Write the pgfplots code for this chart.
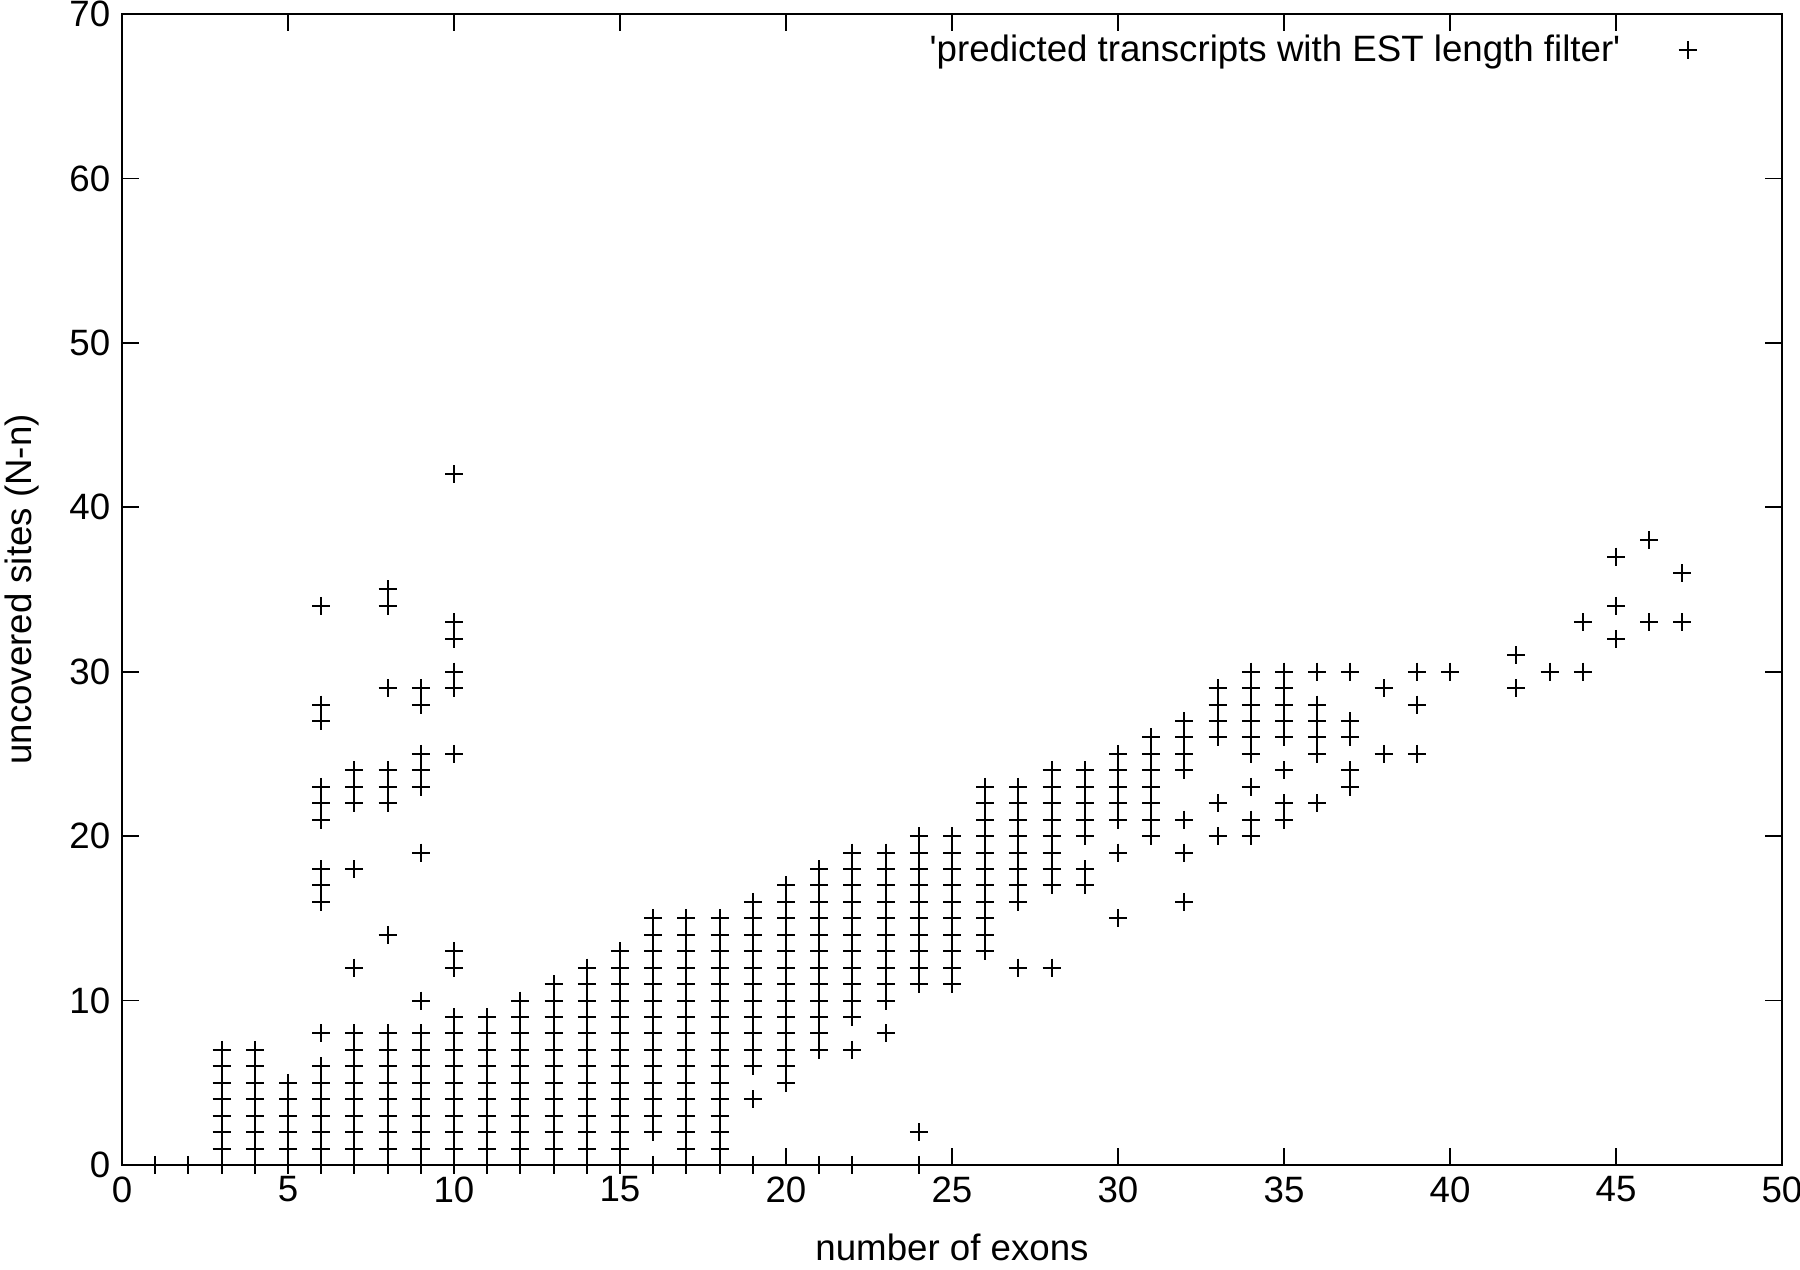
\documentclass[border=0pt]{standalone}
\usepackage{pgfplots}
\pgfplotsset{compat=1.18}
\usepackage{fontspec}
\setmainfont{Liberation Sans}
\begin{document}
\begin{tikzpicture}
\begin{axis}[name=ax, scale only axis, width=498pt, height=345.3pt,
  xmin=0, xmax=50, ymin=0, ymax=70,
  xtick={0,5,...,50}, ytick={0,10,...,70},
  tick align=inside, xtick pos=both, ytick pos=both,
  major tick length=5pt, minor tick num=0,
  axis line style={line width=0.6pt},
  every tick/.style={black, line width=0.5pt},
  tick label style={font=\fontsize{11}{13}\selectfont},
  label style={font=\fontsize{11}{13}\selectfont},
  /pgf/number format/assume math mode=true,
  xlabel={number of exons},
  ylabel={uncovered sites (N-n)},
  xlabel style={at={(axis description cs:0.5,-0.072)}, anchor=center},
  ylabel style={at={(axis description cs:-0.0602,0.5)}, anchor=center},
  clip=false,
  legend plot pos=right,
  legend cell align=right,
  legend style={draw=none, fill=none, at={(1,1)}, anchor=north east, xshift=-22.4pt, yshift=-2pt, font=\fontsize{11}{13}\selectfont},
]
\addplot[only marks, mark=+, mark size=2.7pt, black, line width=0.6pt] coordinates {
(1,0) (2,0)
(3,0) (3,1) (3,2) (3,3) (3,4) (3,5) (3,6) (3,7)
(4,0) (4,1) (4,2) (4,3) (4,4) (4,5) (4,6) (4,7)
(5,0) (5,1) (5,2) (5,3) (5,4) (5,5)
(6,0) (6,1) (6,2) (6,3) (6,4) (6,5) (6,6) (6,8) (6,16) (6,17) (6,18) (6,21) (6,22) (6,23) (6,27) (6,28) (6,34)
(7,0) (7,1) (7,2) (7,3) (7,4) (7,5) (7,6) (7,7) (7,8) (7,12) (7,18) (7,22) (7,23) (7,24)
(8,0) (8,1) (8,2) (8,3) (8,4) (8,5) (8,6) (8,7) (8,8) (8,14) (8,22) (8,23) (8,24) (8,29) (8,34) (8,35)
(9,0) (9,1) (9,2) (9,3) (9,4) (9,5) (9,6) (9,7) (9,8) (9,10) (9,19) (9,23) (9,24) (9,25) (9,28) (9,29)
(10,0) (10,1) (10,2) (10,3) (10,4) (10,5) (10,6) (10,7) (10,8) (10,9) (10,12) (10,13) (10,25) (10,29) (10,30) (10,32) (10,33) (10,42)
(11,0) (11,1) (11,2) (11,3) (11,4) (11,5) (11,6) (11,7) (11,8) (11,9)
(12,0) (12,1) (12,2) (12,3) (12,4) (12,5) (12,6) (12,7) (12,8) (12,9) (12,10)
(13,0) (13,1) (13,2) (13,3) (13,4) (13,5) (13,6) (13,7) (13,8) (13,9) (13,10) (13,11)
(14,0) (14,1) (14,2) (14,3) (14,4) (14,5) (14,6) (14,7) (14,8) (14,9) (14,10) (14,11) (14,12)
(15,0) (15,1) (15,2) (15,3) (15,4) (15,5) (15,6) (15,7) (15,8) (15,9) (15,10) (15,11) (15,12) (15,13)
(16,0) (16,2) (16,3) (16,4) (16,5) (16,6) (16,7) (16,8) (16,9) (16,10) (16,11) (16,12) (16,13) (16,14) (16,15)
(17,0) (17,1) (17,2) (17,3) (17,4) (17,5) (17,6) (17,7) (17,8) (17,9) (17,10) (17,11) (17,12) (17,13) (17,14) (17,15)
(18,0) (18,1) (18,2) (18,3) (18,4) (18,5) (18,6) (18,7) (18,8) (18,9) (18,10) (18,11) (18,12) (18,13) (18,14) (18,15)
(19,0) (19,4) (19,6) (19,7) (19,8) (19,9) (19,10) (19,11) (19,12) (19,13) (19,14) (19,15) (19,16)
(20,5) (20,6) (20,7) (20,8) (20,9) (20,10) (20,11) (20,12) (20,13) (20,14) (20,15) (20,16) (20,17)
(21,0) (21,7) (21,8) (21,9) (21,10) (21,11) (21,12) (21,13) (21,14) (21,15) (21,16) (21,17) (21,18)
(22,0) (22,7) (22,9) (22,10) (22,11) (22,12) (22,13) (22,14) (22,15) (22,16) (22,17) (22,18) (22,19)
(23,8) (23,10) (23,11) (23,12) (23,13) (23,14) (23,15) (23,16) (23,17) (23,18) (23,19)
(24,0) (24,2) (24,11) (24,12) (24,13) (24,14) (24,15) (24,16) (24,17) (24,18) (24,19) (24,20)
(25,11) (25,12) (25,13) (25,14) (25,15) (25,16) (25,17) (25,18) (25,19) (25,20)
(26,13) (26,14) (26,15) (26,16) (26,17) (26,18) (26,19) (26,20) (26,21) (26,22) (26,23)
(27,12) (27,16) (27,17) (27,18) (27,19) (27,20) (27,21) (27,22) (27,23)
(28,12) (28,17) (28,18) (28,19) (28,20) (28,21) (28,22) (28,23) (28,24)
(29,17) (29,18) (29,20) (29,21) (29,22) (29,23) (29,24)
(30,15) (30,19) (30,21) (30,22) (30,23) (30,24) (30,25)
(31,20) (31,21) (31,22) (31,23) (31,24) (31,25) (31,26)
(32,16) (32,19) (32,21) (32,24) (32,25) (32,26) (32,27)
(33,20) (33,22) (33,26) (33,27) (33,28) (33,29)
(34,20) (34,21) (34,23) (34,25) (34,26) (34,27) (34,28) (34,29) (34,30)
(35,21) (35,22) (35,24) (35,26) (35,27) (35,28) (35,29) (35,30)
(36,22) (36,25) (36,26) (36,27) (36,28) (36,30)
(37,23) (37,24) (37,26) (37,27) (37,30)
(38,25) (38,29)
(39,25) (39,28) (39,30)
(40,30)
(42,29) (42,31)
(43,30)
(44,30) (44,33)
(45,32) (45,34) (45,37)
(46,33) (46,38)
(47,33) (47,36)
};
\addlegendentry{\textquotesingle predicted transcripts with EST length filter\textquotesingle\rule{15.5pt}{0pt}}
\end{axis}
\pgfresetboundingbox
\path ([shift={(-36.6pt,-31.5pt)}]ax.south west) rectangle ([shift={(5.4pt,4.2pt)}]ax.north east);
\end{tikzpicture}
\end{document}
